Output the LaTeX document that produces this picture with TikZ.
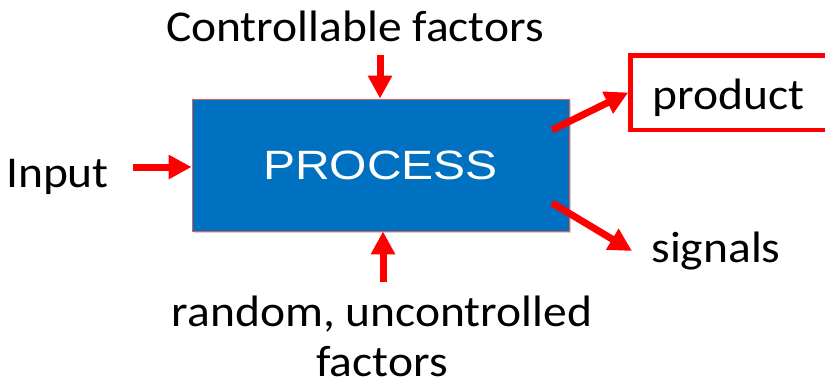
\documentclass[tikz,border=0pt]{standalone}
\usepackage{fontspec}
\setmainfont{Carlito}[FakeStretch=1.08]
\newfontfamily\procfont{Liberation Sans}[FakeStretch=1.17]
\usetikzlibrary{arrows.meta, shadows, positioning}
\definecolor{procblue}{HTML}{0070C0}
\definecolor{procedge}{HTML}{D9625F}
\tikzset{
    lbltext/.style={inner sep=0pt, font=\fontsize{44pt}{50pt}\selectfont, align=center},
    flow/.style={-{Triangle[length=23pt, width=23pt]}, line width=7pt, red}
}

\begin{document}
\begin{tikzpicture}[
		x=1pt, y=-1pt,
		procbox/.style={rectangle, draw=procedge, fill=procblue, line width=0.8pt, minimum width=377pt, minimum height=132pt, text=white, font=\procfont\fontsize{41pt}{48pt}\selectfont, drop shadow={shadow xshift=2pt, shadow yshift=-2pt, opacity=0.35}},
		outbox/.style={rectangle, draw=red, line width=4.5pt, minimum height=74.5pt, text width=190pt, text height=31pt, text depth=5pt, inner xsep=22pt, align=left, font=\fontsize{44pt}{50pt}\selectfont, anchor=west}
		]
		\clip (0,0) rectangle (825,386);
		
		% --- KHỐI CHÍNH ---
		\node[procbox] (process) at (380.5,165) {PROCESS};
		
		% --- NHÃN VÀO / RA ---
		\node[lbltext, anchor=base] (ctrl) at (355,41) {Controllable factors};
		\node[lbltext, anchor=base] (input) at (57.5,187) {Input};
		\node[outbox] (product) at (628.25,92.5) {\raisebox{-4pt}{product}};
		\node[lbltext, anchor=base] (signals) at (716,262) {signals};
		\node[lbltext] (random) at (382,336) {random, uncontrolled\\factors};
		
		% --- MŨI TÊN ---
		\coordinate (ctrl in) at (380,55);
		\coordinate (rand in) at (383,282);
		\coordinate (input out) at (133,167);
		\coordinate (prod out) at (552,130);
		\coordinate (sig out) at (552,203);
		\coordinate (sig tip) at (632,251);
		
		\draw[flow] (ctrl in) -- (ctrl in |- process.north);
		\draw[flow] (rand in) -- (rand in |- process.south);
		\draw[flow] (input out) -- (input out -| process.west);
		\draw[flow] (prod out) -- (product.west);
		\draw[flow] (sig out) -- (sig tip);
		
	\end{tikzpicture}
\end{document}
